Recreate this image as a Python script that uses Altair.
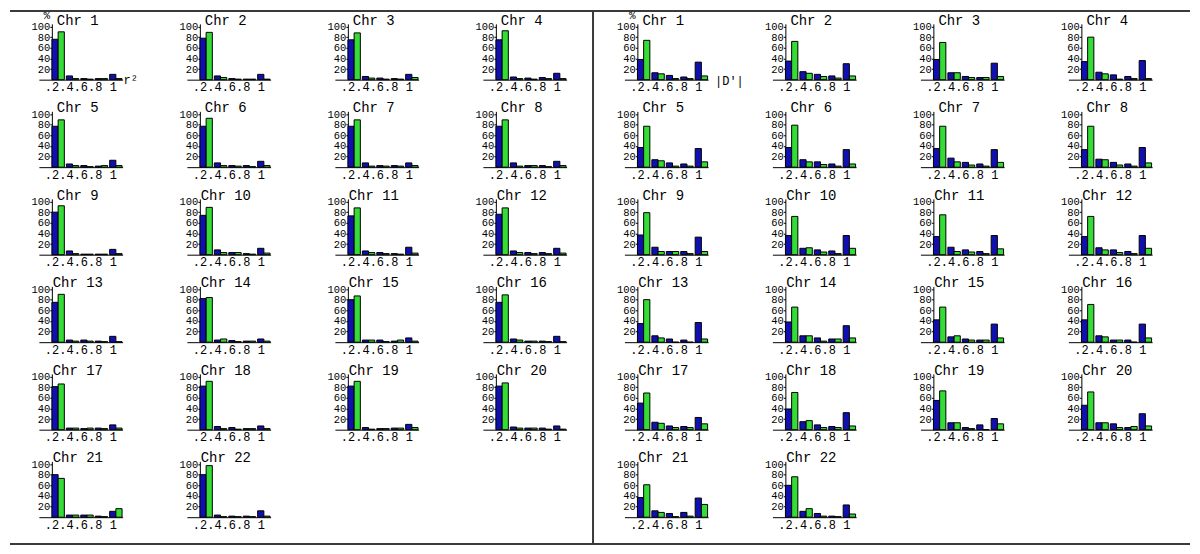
import altair as alt
import pandas as pd

CHROMS = list(range(1, 23))
BINS = [".2", ".4", ".6", ".8", "1"]
SERIES = ["a", "b"]

# r^2 histograms (percent per bin), blue and green series
R2_BLUE = [
    [76, 7, 2, 2, 10], [78, 7, 2, 1, 10], [75, 6, 3, 2, 10], [75, 5, 3, 4, 12],
    [77, 6, 3, 2, 13], [77, 8, 3, 3, 11], [77, 8, 3, 3, 8], [77, 8, 3, 3, 11],
    [80, 7, 1, 1, 10], [74, 9, 4, 2, 12], [73, 7, 4, 2, 14], [76, 7, 4, 4, 12],
    [75, 4, 4, 2, 11], [82, 4, 3, 2, 6], [80, 4, 4, 2, 8], [75, 6, 2, 2, 11],
    [81, 3, 2, 3, 9], [82, 6, 4, 2, 7], [82, 4, 2, 3, 10], [82, 5, 3, 3, 7],
    [80, 4, 4, 2, 11], [80, 4, 2, 2, 12],
]
R2_GREEN = [
    [90, 2, 1, 2, 2], [89, 4, 1, 1, 1], [88, 3, 1, 1, 4], [92, 2, 1, 2, 2],
    [89, 3, 1, 3, 3], [92, 3, 2, 1, 3], [89, 2, 2, 2, 3], [89, 2, 3, 1, 3],
    [92, 2, 1, 1, 2], [89, 4, 4, 1, 3], [88, 4, 2, 1, 3], [88, 4, 2, 2, 3],
    [90, 2, 2, 1, 1], [84, 6, 1, 2, 2], [87, 4, 1, 4, 2], [89, 4, 2, 1, 1],
    [86, 3, 3, 2, 3], [91, 2, 1, 2, 2], [91, 1, 2, 3, 4], [88, 3, 3, 1, 1],
    [73, 4, 4, 1, 16], [97, 1, 1, 1, 2],
]
# |D'| histograms
D_BLUE = [
    [38, 13, 8, 5, 33], [35, 15, 10, 7, 30], [38, 13, 6, 4, 31], [34, 14, 9, 6, 36],
    [37, 14, 8, 6, 35], [37, 14, 10, 6, 33], [35, 17, 9, 6, 33], [33, 15, 9, 6, 37],
    [37, 14, 6, 6, 33], [36, 12, 9, 7, 36], [34, 14, 9, 6, 36], [34, 13, 9, 6, 36],
    [35, 12, 6, 4, 37], [38, 12, 8, 6, 31], [42, 10, 6, 4, 34], [42, 12, 4, 4, 34],
    [50, 14, 7, 6, 23], [39, 15, 9, 6, 32], [55, 13, 4, 9, 21], [46, 13, 11, 4, 30],
    [37, 12, 7, 9, 36], [60, 11, 7, 2, 23],
]
D_GREEN = [
    [74, 11, 2, 2, 7], [72, 12, 6, 3, 7], [70, 13, 4, 4, 6], [80, 11, 1, 2, 2],
    [77, 12, 2, 2, 10], [79, 10, 5, 2, 6], [77, 10, 4, 2, 9], [77, 14, 4, 2, 8],
    [79, 6, 6, 2, 6], [72, 13, 5, 2, 12], [75, 6, 5, 2, 11], [72, 9, 4, 2, 12],
    [80, 8, 0, 0, 6], [66, 12, 2, 6, 8], [66, 12, 4, 4, 8], [71, 10, 4, 0, 8],
    [69, 12, 4, 4, 11], [70, 17, 4, 4, 7], [73, 13, 2, 0, 11], [71, 13, 4, 6, 7],
    [61, 9, 1, 2, 24], [76, 16, 2, 1, 6],
]

BLUE = "#1010b0"
GREEN = "#36dc36"
FONT = "Liberation Mono"
W, H = 84, 56
LINE = "#3a3a3a"
ONE = pd.DataFrame({"k": [0]})


def text_layer(txt, x, y, size=14, align="center", baseline="alphabetic"):
    return alt.Chart(pd.DataFrame({"t": [txt]})).mark_text(
        font=FONT, fontSize=size, align=align, baseline=baseline, color="black"
    ).encode(text="t:N", x=alt.value(x), y=alt.value(y))


def rule_layer(x, x2, y, y2):
    return alt.Chart(ONE).mark_rule(color=LINE, strokeWidth=2).encode(
        x=alt.value(x), x2=alt.value(x2), y=alt.value(y), y2=alt.value(y2)
    )


def panel(chrom, blue, green, extras):
    df = pd.DataFrame({
        "bin": BINS * 2,
        "s": ["a"] * 5 + ["b"] * 5,
        "v": list(blue) + list(green),
    })
    bars = alt.Chart(df).mark_bar(stroke="black", strokeWidth=1).encode(
        x=alt.X("bin:N", sort=BINS,
                scale=alt.Scale(paddingInner=0.14, paddingOuter=0.47, align=0.96),
                axis=alt.Axis(title=None, labelAngle=0, ticks=False, domainColor="black",
                              domainWidth=1, labelAlign="right", labelOffset=1,
                              labelFont=FONT, labelFontSize=12, labelColor="black",
                              labelPadding=2, labelBaseline="top", labelOverlap=False)),
        xOffset=alt.XOffset("s:N", sort=SERIES,
                            scale=alt.Scale(paddingInner=0, paddingOuter=0)),
        y=alt.Y("v:Q", scale=alt.Scale(domain=[0, 105], nice=False),
                axis=alt.Axis(values=[20, 40, 60, 80, 100], offset=-13, grid=False,
                              title=None, tickSize=2, tickColor="black",
                              domainColor="black", labelFont=FONT, labelFontSize=10.5,
                              labelColor="black", labelPadding=0, labelOverlap=False,
                              labelBound=False)),
        color=alt.Color("s:N", scale=alt.Scale(domain=SERIES, range=[BLUE, GREEN]),
                        legend=None),
    )
    title = text_layer(f"Chr {chrom}", 39, 1)
    return alt.layer(bars, title, *extras).properties(width=W, height=H)


left_panels = []
right_panels = []
for i, c in enumerate(CHROMS):
    lx, rx = [], []
    if c == 1:
        lx = [
            text_layer("%", 8, -5, size=11),
            text_layer("r²", W + 1, H, size=12, align="left", baseline="middle"),
            rule_layer(-29, 1155, -13, -13),
            rule_layer(-29, 1155, 522, 522),
            rule_layer(556, 556, -13, 522),
        ]
        rx = [
            text_layer("%", 8, -5, size=11),
            text_layer("|D'|", W + 7, H + 1, size=12, align="left", baseline="middle"),
        ]
    left_panels.append(panel(c, R2_BLUE[i], R2_GREEN[i], lx))
    right_panels.append(panel(c, D_BLUE[i], D_GREEN[i], rx))

left = alt.concat(*left_panels, columns=4, spacing={"row": 31.8, "column": 64.5},
                  bounds="flush")
right = alt.concat(*right_panels, columns=4, spacing={"row": 31.8, "column": 64.5},
                   bounds="flush")

chart = alt.hconcat(left, right, spacing=587.5, bounds="flush", padding=0,
                    background="white").configure_view(stroke="transparent")

chart.save("out.html", embed_options={"renderer": "svg", "actions": False})
